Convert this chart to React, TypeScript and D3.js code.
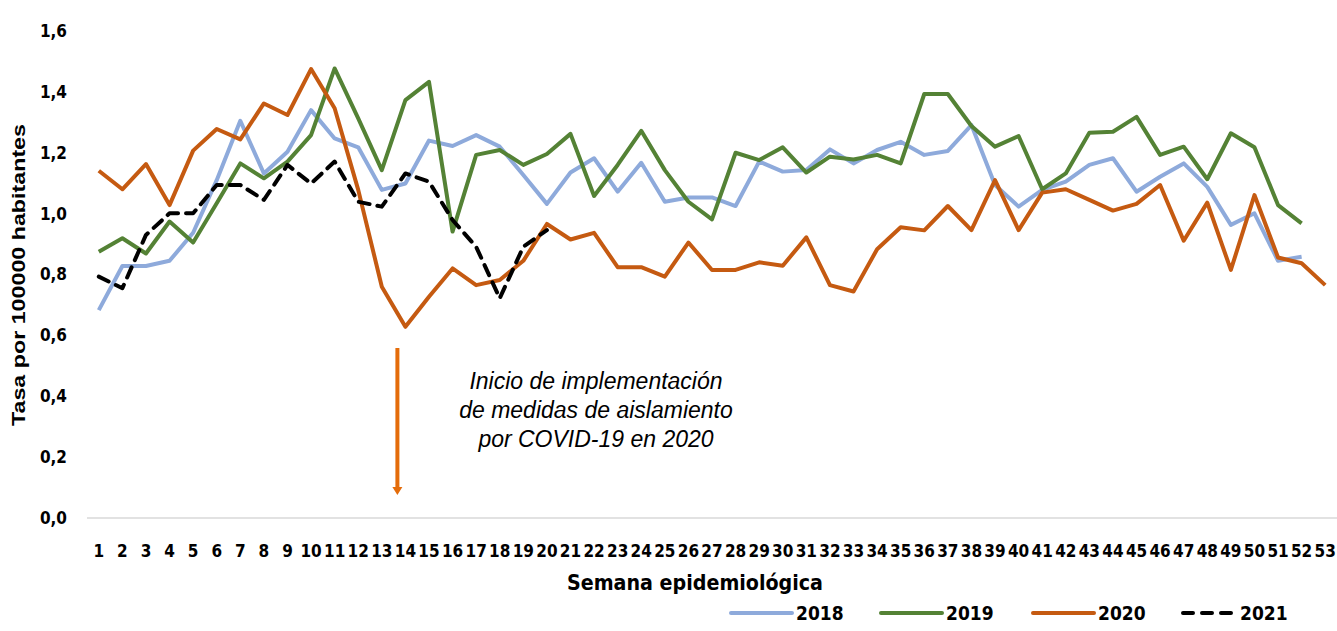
import React, { useEffect, useRef } from 'react';
import * as d3 from 'd3';

// semanas epidemiológicas 1..53
const weeks = d3.range(1, 54).map(String);
const yTicks = [0, 0.2, 0.4, 0.6, 0.8, 1.0, 1.2, 1.4, 1.6];

const s2018 = [0.683, 0.828, 0.828, 0.845, 0.937, 1.11, 1.305, 1.132, 1.203, 1.34, 1.247, 1.218, 1.078, 1.099, 1.24, 1.222, 1.258, 1.22, 1.127,
  1.032, 1.135, 1.182, 1.072, 1.167, 1.039, 1.053, 1.053, 1.025, 1.171, 1.138, 1.143, 1.211, 1.165, 1.209, 1.236, 1.193, 1.206,
  1.291, 1.094, 1.023, 1.078, 1.105, 1.16, 1.182, 1.072, 1.121, 1.165, 1.088, 0.963, 1.001, 0.845, 0.858];
const s2019 = [0.875, 0.919, 0.869, 0.974, 0.905, 1.034, 1.165, 1.116, 1.171, 1.258, 1.477, 1.313, 1.143, 1.373, 1.433, 0.941, 1.193, 1.209, 1.16,
  1.196, 1.262, 1.058, 1.16, 1.272, 1.143, 1.039, 0.981, 1.2, 1.176, 1.218, 1.135, 1.187, 1.178, 1.193, 1.165, 1.393, 1.393,
  1.288, 1.22, 1.255, 1.08, 1.132, 1.266, 1.269, 1.318, 1.193, 1.22, 1.113, 1.264, 1.218, 1.028, 0.968];
const s2020 = [1.141, 1.08, 1.163, 1.028, 1.207, 1.278, 1.244, 1.362, 1.324, 1.475, 1.346, 1.078, 0.76, 0.628, 0.727, 0.82, 0.765, 0.782, 0.845,
  0.966, 0.915, 0.937, 0.824, 0.824, 0.793, 0.905, 0.815, 0.815, 0.84, 0.829, 0.922, 0.765, 0.744, 0.883, 0.955, 0.945, 1.025,
  0.946, 1.11, 0.946, 1.069, 1.08, 1.045, 1.01, 1.032, 1.094, 0.911, 1.036, 0.815, 1.061, 0.856, 0.837, 0.765];
const s2021 = [0.793, 0.755, 0.93, 1.001, 1.001, 1.094, 1.094, 1.045, 1.16, 1.099, 1.171, 1.039, 1.023, 1.132, 1.105, 0.979, 0.891, 0.722, 0.891, 0.946];

const series = [
  { name: '2018', values: s2018, color: '#8eaadb', dash: null },
  { name: '2019', values: s2019, color: '#548235', dash: null },
  { name: '2020', values: s2020, color: '#c55a11', dash: null },
  { name: '2021', values: s2021, color: '#000000', dash: '11,8' },
];

const W = 1337, H = 631;
const NARROW = "'Liberation Sans Narrow', 'DejaVu Sans Condensed', sans-serif";
const ARIAL = "'Liberation Sans', Arial, sans-serif";

export default function App() {
  const ref = useRef<SVGSVGElement>(null);

  useEffect(() => {
    const svg = d3.select(ref.current);
    svg.selectAll('*').remove();

    const x = d3.scaleBand().domain(weeks).range([87, 1337]);
    const y = d3.scaleLinear().domain([0, 1.6]).range([518, 31]);
    const cx = (i: number) => (x(weeks[i]) as number) + x.bandwidth() / 2;

    // baseline
    svg.append('line')
      .attr('x1', 87).attr('x2', 1337)
      .attr('y1', y(0)).attr('y2', y(0))
      .attr('stroke', '#d9d9d9').attr('stroke-width', 1.5);

    // y ticks
    svg.append('g')
      .selectAll('text')
      .data(yTicks)
      .join('text')
      .attr('x', 67)
      .attr('y', d => y(d))
      .attr('dy', '0.35em')
      .attr('text-anchor', 'end')
      .attr('font-family', NARROW)
      .attr('font-weight', 'bold')
      .attr('font-size', 17)
      .attr('fill', '#000')
      .text(d => d3.format('.1f')(d).replace('.', ','));

    // x ticks
    svg.append('g')
      .selectAll('text')
      .data(weeks)
      .join('text')
      .attr('x', (d, i) => cx(i))
      .attr('y', 551)
      .attr('dy', '0.35em')
      .attr('text-anchor', 'middle')
      .attr('font-family', NARROW)
      .attr('font-weight', 'bold')
      .attr('font-size', 17)
      .attr('fill', '#000')
      .text(d => d);

    // lines
    const line = d3.line<number>()
      .x((d, i) => cx(i))
      .y(d => y(d));

    series.forEach(s => {
      svg.append('path')
        .datum(s.values)
        .attr('d', line)
        .attr('fill', 'none')
        .attr('stroke', s.color)
        .attr('stroke-width', 4)
        .attr('stroke-linejoin', 'round')
        .attr('stroke-linecap', s.dash ? 'round' : 'butt')
        .attr('stroke-dasharray', s.dash);
    });

    // arrow
    const ax = cx(13) - 8;
    svg.append('line')
      .attr('x1', ax).attr('x2', ax)
      .attr('y1', 348).attr('y2', 488)
      .attr('stroke', '#e46c0a').attr('stroke-width', 4);
    svg.append('path')
      .attr('d', `M${ax - 5},487 L${ax + 5},487 L${ax},495 Z`)
      .attr('fill', '#e46c0a');

    // annotation
    const note = ['Inicio de implementación', 'de medidas de aislamiento', 'por COVID-19 en 2020'];
    svg.append('g')
      .selectAll('text')
      .data(note)
      .join('text')
      .attr('x', 596)
      .attr('y', (d, i) => 389 + i * 29)
      .attr('text-anchor', 'middle')
      .attr('font-family', ARIAL)
      .attr('font-style', 'italic')
      .attr('font-size', 23)
      .attr('fill', '#000')
      .text(d => d);

    // axis titles
    svg.append('text')
      .attr('transform', 'translate(25,275) rotate(-90)')
      .attr('text-anchor', 'middle')
      .attr('font-family', ARIAL)
      .attr('font-weight', 'bold')
      .attr('font-size', 18)
      .attr('textLength', 302)
      .attr('lengthAdjust', 'spacingAndGlyphs')
      .text('Tasa por 100000 habitantes');

    svg.append('text')
      .attr('x', 695)
      .attr('y', 590)
      .attr('text-anchor', 'middle')
      .attr('font-family', NARROW)
      .attr('font-weight', 'bold')
      .attr('font-size', 22)
      .attr('textLength', 256)
      .attr('lengthAdjust', 'spacingAndGlyphs')
      .text('Semana epidemiológica');

    // legend
    const legX = [731, 881, 1033, 1183];
    const lg = svg.append('g')
      .selectAll('g')
      .data(series)
      .join('g')
      .attr('transform', (d, i) => `translate(${legX[i]},613)`);
    lg.append('line')
      .attr('x1', 0).attr('x2', (d) => d.dash ? 52 : 61)
      .attr('y1', 0).attr('y2', 0)
      .attr('stroke', d => d.color)
      .attr('stroke-width', 4)
      .attr('stroke-linecap', 'round')
      .attr('stroke-dasharray', d => d.dash ? '10,9' : null);
    lg.append('text')
      .attr('x', d => d.dash ? 57 : 65)
      .attr('y', 0)
      .attr('dy', '0.35em')
      .attr('font-family', NARROW)
      .attr('font-weight', 'bold')
      .attr('font-size', 19)
      .text(d => d.name);
  }, []);

  return (
    <svg ref={ref} width={W} height={H}
      style={{ position: 'absolute', left: 0, top: 0, background: '#fff' }} />
  );
}
